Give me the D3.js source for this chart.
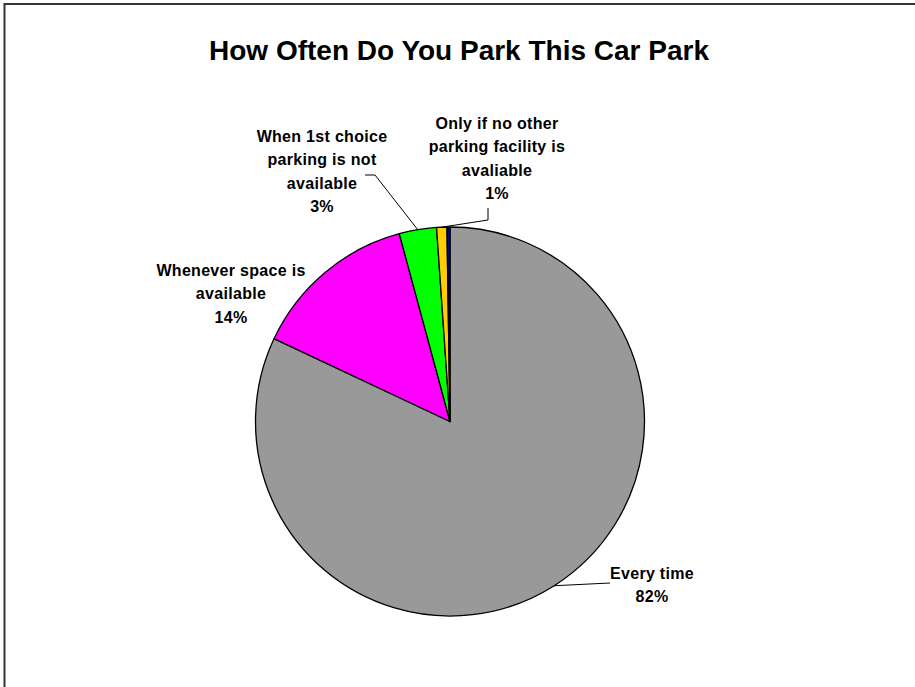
<!DOCTYPE html>
<html>
<head>
<meta charset="utf-8">
<script src="https://cdn.jsdelivr.net/npm/d3@7"></script>
<style>
  body { margin: 0; background: #fff; }
  text { font-family: Arial, "Liberation Sans", sans-serif; font-weight: bold; fill: #000; }
</style>
</head>
<body>
<script>
const width = 915;
const height = 687;

// data
var categories = [
    "Every time",
    "Whenever space is available",
    "When 1st choice parking is not available",
    "Only if no other parking facility is avaliable",
    "Other"
];
var shares = [82.0, 13.8, 3.1, 0.85, 0.25];
var sliceColors = ["#999999", "#ff00ff", "#00ff00", "#ffcc00", "#000080"];

// label lines (wrapped text) and where they sit
var labelLines = [
    ["Every time"],
    ["Whenever space is", "available"],
    ["When 1st choice", "parking is not", "available"],
    ["Only if no other", "parking facility is", "avaliable"],
    null
];
var labelPos = [
    { x: 652, y: 579 },
    { x: 231, y: 276 },
    { x: 322, y: 142 },
    { x: 497, y: 129 },
    null
];
var leaderStart = [
    [610, 583],
    null,
    [[365, 175], [375, 175]],
    [[488, 208], [488, 220]],
    null
];

var cx = 450, cy = 421.5, radius = 194.5;
var lineGap = 23.3;

var svg = d3.select("body")
    .append("svg")
    .attr("width", width)
    .attr("height", height);

svg.append("rect")
    .attr("width", width)
    .attr("height", height)
    .attr("fill", "#fff");

// chart frame (runs off the right and bottom edges)
svg.append("rect")
    .attr("x", 4.5)
    .attr("y", 4)
    .attr("width", 1000)
    .attr("height", 1000)
    .attr("fill", "none")
    .attr("stroke", "#333")
    .attr("stroke-width", 2);

svg.append("text")
    .attr("x", 459)
    .attr("y", 60)
    .attr("text-anchor", "middle")
    .style("font-size", "28px")
    .text("How Often Do You Park This Car Park");

var pie = d3.pie().sort(null).value(function (d) { return d; });
var arcs = pie(shares);
var arc = d3.arc().innerRadius(0).outerRadius(radius);
var edgeArc = d3.arc().innerRadius(radius).outerRadius(radius);

var g = svg.append("g").attr("transform", "translate(" + cx + "," + cy + ")");

g.selectAll("path")
    .data(arcs)
    .enter()
    .append("path")
    .attr("d", arc)
    .attr("fill", function (d, i) { return sliceColors[i]; })
    .attr("stroke", "#000")
    .attr("stroke-width", 1.3)
    .attr("stroke-linejoin", "round");

// leader lines from label to slice edge
arcs.forEach(function (d, i) {
    if (!leaderStart[i]) return;
    var c = edgeArc.centroid(d);
    var end = [cx + c[0], cy + c[1]];
    var pts;
    if (Array.isArray(leaderStart[i][0])) {
        pts = leaderStart[i].concat([end]);
    } else {
        pts = [leaderStart[i], end];
    }
    svg.append("path")
        .attr("d", d3.line()(pts))
        .attr("fill", "none")
        .attr("stroke", "#000")
        .attr("stroke-width", 1);
});

// data labels
var pct = d3.format(".0f");
arcs.forEach(function (d, i) {
    if (!labelLines[i]) return;
    var lines = labelLines[i].concat([pct(shares[i]) + "%"]);
    var t = svg.append("text")
        .attr("text-anchor", "middle")
        .style("font-size", "16px")
        .style("letter-spacing", "0.3px");
    lines.forEach(function (s, k) {
        t.append("tspan")
            .attr("x", labelPos[i].x)
            .attr("y", labelPos[i].y + k * lineGap)
            .text(s);
    });
});
</script>
</body>
</html>
